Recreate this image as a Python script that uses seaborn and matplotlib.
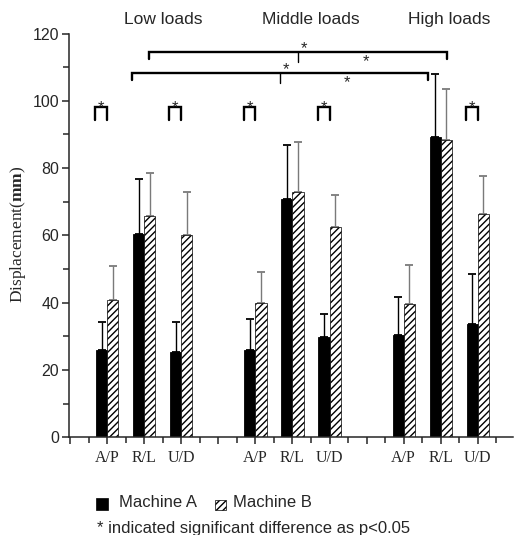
import numpy as np
import pandas as pd
import matplotlib
matplotlib.use("Agg")
import matplotlib.pyplot as plt
from matplotlib.patches import Rectangle
import seaborn as sns

# ---------------- data ----------------
load_groups = ["Low loads", "Middle loads", "High loads"]
directions = ["A/P", "R/L", "U/D"]
machines = ["Machine A", "Machine B"]

machine_a_mean = [26.0, 60.5, 25.3, 26.0, 70.8, 29.8, 30.4, 89.2, 33.6]
machine_a_sd = [8.4, 16.4, 9.1, 9.1, 16.0, 6.8, 11.4, 18.7, 15.0]
machine_b_mean = [40.9, 65.9, 60.2, 39.9, 72.9, 62.5, 39.7, 88.4, 66.5]
machine_b_sd = [9.9, 12.7, 12.7, 9.2, 14.8, 9.6, 11.4, 15.1, 11.3]

# pairs (Machine A vs B) with significant difference
pair_sig = ["Low loads A/P", "Low loads U/D", "Middle loads A/P",
            "Middle loads U/D", "High loads U/D"]

footnote = "* indicated significant difference as p<0.05"

# ---------------- table ----------------
rows = []
for gi, g in enumerate(load_groups):
    for di, d in enumerate(directions):
        k = f"{g} {d}"
        i = gi * 3 + di
        rows.append(dict(key=k, machine="Machine A", mean=machine_a_mean[i], sd=machine_a_sd[i]))
        rows.append(dict(key=k, machine="Machine B", mean=machine_b_mean[i], sd=machine_b_sd[i]))
df = pd.DataFrame(rows)

order = []
for gi, g in enumerate(load_groups):
    order += [f"{g} {d}" for d in directions]
    if gi < len(load_groups) - 1:
        order.append(f"gap {gi}")
tick_labels = [""] + [k.split(" ")[-1] if not k.startswith("gap") else "" for k in order]

# ---------------- style ----------------
sns.set_style("ticks")
plt.rcParams["font.family"] = ["Liberation Sans", "DejaVu Sans"]
plt.rcParams["hatch.linewidth"] = 1.0
plt.rcParams["hatch.color"] = "black"
plt.rcParams["mathtext.fontset"] = "custom"
plt.rcParams["mathtext.rm"] = "Liberation Serif"
plt.rcParams["mathtext.bf"] = "Liberation Serif:bold"

W, H = 514, 535
fig = plt.figure(figsize=(W / 100, H / 100), dpi=100)
ax = fig.add_axes([69 / W, (H - 437.3) / H, 444 / W, 403.8 / H])

sns.barplot(data=df, x="key", y="mean", hue="machine", order=order,
            hue_order=machines, palette={"Machine A": "black", "Machine B": "white"},
            width=0.6, errorbar=None, legend=False, ax=ax,
            edgecolor="black", linewidth=0.6, saturation=1)

# hatch for Machine B bars
for p in ax.containers[1]:
    p.set_hatch("/////")
    p.set_edgecolor("black")
    p.set_linewidth(0.5)

# error bars (upper only)
sd_lookup = {(r.key, r.machine): r.sd for r in df.itertuples()}
err_colors = {"Machine A": "black", "Machine B": "#7a7a7a"}
for cont, m in zip(ax.containers, machines):
    xs, ys, es = [], [], []
    for p in cont:
        xc = p.get_x() + p.get_width() / 2
        h = p.get_height()
        if not np.isfinite(h):
            continue
        k = order[int(round(xc))]
        xs.append(xc)
        ys.append(h)
        es.append(sd_lookup[(k, m)])
    ax.errorbar(xs, ys, yerr=[np.zeros(len(es)), es], fmt="none",
                ecolor=err_colors[m], elinewidth=1.0, capsize=2.6,
                capthick=1.3, zorder=0.5)

# axes
ax.set_xlim(-1.03, 10.95)
ax.set_ylim(0, 120)
ax.set_xticks(range(-1, 11))
ax.set_xticklabels(tick_labels, fontfamily="Liberation Serif", fontsize=11.5)
ax.set_xticks(np.arange(-0.5, 11, 1), minor=True)
ax.set_yticks(range(0, 121, 20))
ax.set_yticklabels([str(v) for v in range(0, 121, 20)], fontsize=11.5)
ax.set_yticks(range(10, 120, 20), minor=True)
ax.tick_params(axis="both", which="major", length=5, width=1.1, direction="out")
ax.tick_params(axis="both", which="minor", length=4, width=1.1, direction="out")
ax.tick_params(axis="x", which="major", pad=4)
ax.tick_params(axis="y", which="major", pad=2)
ax.set_xlabel("")
ax.set_ylabel("")
sns.despine(ax=ax)
for s in ["left", "bottom"]:
    ax.spines[s].set_linewidth(1.1)

# y label
fig.text(18 / W, 1 - 234 / H, r"Displacement($\mathbf{mm}$)",
         rotation=90, ha="center", va="center", fontsize=12.5,
         fontfamily="Liberation Serif")

# group titles
title_x = [1.52, 5.5, 9.24]
for g, tx in zip(load_groups, title_x):
    ax.text(tx, 124.2, g, ha="center", va="center", fontsize=12.5, clip_on=False)

# small significance brackets between Machine A and B
lw_b = 1.7
for k in pair_sig:
    c = order.index(k)
    ax.plot([c - 0.32, c - 0.32, c, c], [94.4, 98.1, 98.1, 94.4],
            color="black", lw=lw_b, solid_joinstyle="miter", clip_on=False)
    ax.text(c - 0.16, 98.0, "*", ha="center", va="center", fontsize=12)

# large brackets (R/L across loads)
rl = [order.index(f"{g} R/L") for g in load_groups]
# top: Machine B R/L
xl, xm, xr = rl[0] + 0.14, rl[1] + 0.15, rl[2] + 0.17
ax.plot([xl, xl, xr, xr], [112.3, 114.5, 114.5, 112.3], color="black",
        lw=lw_b, solid_joinstyle="miter", clip_on=False)
ax.plot([xm, xm], [114.5, 111.6], color="black", lw=1.0)
ax.text(xm + 0.16, 115.4, "*", ha="center", va="center", fontsize=12)
ax.text(6.99, 111.5, "*", ha="center", va="center", fontsize=12)
# lower: Machine A R/L
xl, xm, xr = rl[0] - 0.33, rl[1] - 0.35, rl[2] - 0.34
ax.plot([xl, xl, xr, xr], [106.1, 108.3, 108.3, 106.1], color="black",
        lw=lw_b, solid_joinstyle="miter", clip_on=False)
ax.plot([xm, xm], [108.3, 105.4], color="black", lw=1.0)
ax.text(xm + 0.18, 109.3, "*", ha="center", va="center", fontsize=12)
ax.text(6.47, 105.3, "*", ha="center", va="center", fontsize=12)

# legend (manual, below the axes)
def fx(px):
    return px / W

def fy(py):
    return 1 - py / H

fig.patches.append(Rectangle((fx(96), fy(510)), 12 / W, 12 / H,
                             transform=fig.transFigure, facecolor="black",
                             edgecolor="black", lw=0.5))
fig.patches.append(Rectangle((fx(215), fy(510)), 11 / W, 10 / H,
                             transform=fig.transFigure, facecolor="white",
                             edgecolor="black", lw=0.5, hatch="/////"))
fig.text(fx(119), fy(502.5), machines[0], ha="left", va="center", fontsize=12)
fig.text(fx(233), fy(502.5), machines[1], ha="left", va="center", fontsize=12)
fig.text(fx(97), fy(528), footnote, ha="left", va="center", fontsize=12)

fig.savefig("out.png", dpi=100)
